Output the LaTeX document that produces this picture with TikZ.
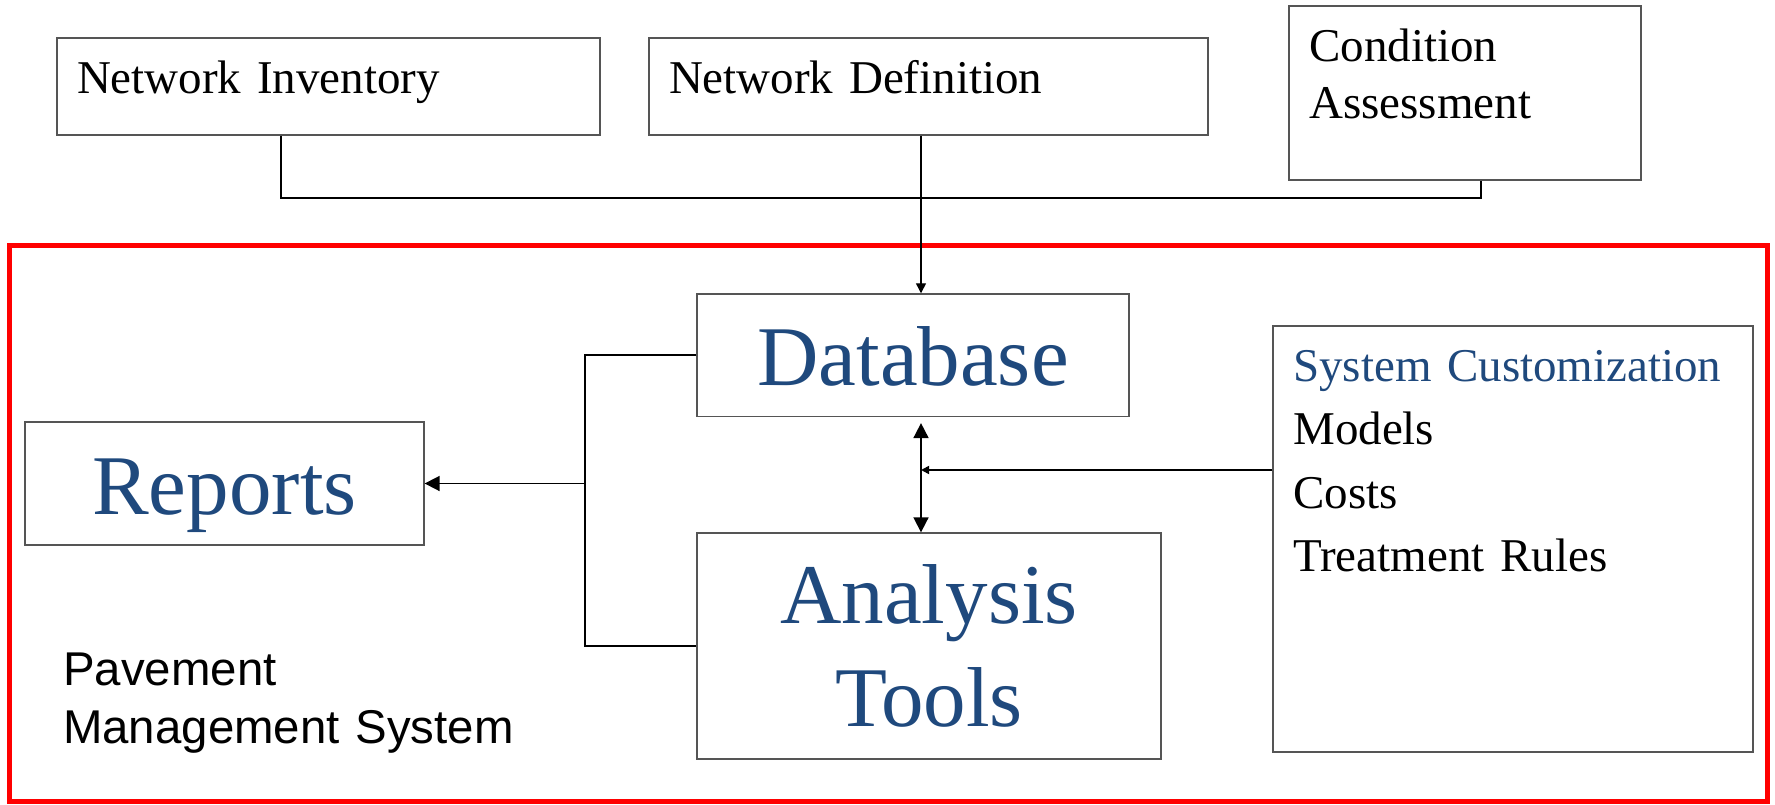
\documentclass[tikz,border=0pt]{standalone}
\usepackage{fontspec}
\setmainfont{Liberation Serif}
\setsansfont{Liberation Sans}
\usetikzlibrary{arrows.meta}
\definecolor{pmsblue}{RGB}{31,73,125}
\definecolor{boxline}{RGB}{85,85,85}

\begin{document}
\begin{tikzpicture}[x=1pt,y=1pt,line width=0.85pt,>={Triangle[width=7.5pt,length=7.5pt]},
  box/.style={draw=boxline,line width=0.65pt,inner sep=0pt},
  toplabel/.style={box,align=left,inner xsep=10pt,minimum height=48.5pt,
    text height=15.5pt,text depth=8pt,font=\fontsize{23.5}{28.5}\selectfont},
  bigbox/.style={box,font=\fontsize{42.5}{51.5}\selectfont,text=pmsblue},
  listtext/.style={inner sep=0pt,anchor=base west,align=left}]
\useasboundingbox (0,0) rectangle (887.5,402);

% frame round the management system
\draw[red,line width=2.5pt] (4.75,1.25) rectangle (883.5,279);

% data sources
\node[toplabel,text width=251.5pt] (inv) at (164.25,358.75) {Network Inventory};
\node[toplabel,text width=259.5pt] (def) at (464.25,358.75) {Network Definition};
\node[box,minimum width=176pt,minimum height=87pt] (cond) at (732.5,355.5) {};
\node[listtext,text width=160pt,font=\fontsize{23.5}{28.5}\selectfont] (condtxt)
  at ([shift={(10pt,-28pt)}]cond.north west) {Condition\\Assessment};

% inside the system
\node[bigbox,minimum width=216pt,minimum height=61.25pt,text height=30.6pt,text depth=0pt] (db) at (456.5,224.4) {Database};
\node[bigbox,minimum width=199.5pt,minimum height=61.5pt,text height=30.6pt,text depth=0pt] (rep) at (112.25,160.25) {Reports};
\node[bigbox,minimum width=232pt,minimum height=113pt,align=center] (tools) at (464.5,79) {Analysis\\Tools};
\node[box,minimum width=240pt,minimum height=213pt] (cust) at (756.5,132.5) {};
\node[listtext,text width=228pt,font=\fontsize{23.5}{31.7}\selectfont] (custtxt)
  at ([shift={(10pt,-28pt)}]cust.north west)
  {\textcolor{pmsblue}{System Customization}\\Models\\Costs\\Treatment Rules};
\node[listtext,text width=240pt,font=\sffamily\fontsize{23.7}{29.2}\selectfont] (pms)
  at (31.15,59.5) {Pavement\\Management System};

\coordinate (jl) at (140.5,303);
\coordinate (jr) at (740.5,303);
\coordinate (mid) at (460.5,303);
\coordinate (feed) at (460.5,167);
\coordinate (fork) at (292.5,160.25);

% connectors
\draw[line width=1pt] (inv.south -| jl) -- (jl) -- (jr) -- (cond.south -| jr);
\draw[line width=0.65pt,-{Triangle[width=5pt,length=5pt]}] (def.south -| mid) -- (db.north -| mid);
\draw[<->,shorten <=3pt] (db.south -| mid) -- (tools.north -| mid);
\draw[-{Triangle[width=4pt,length=4pt]}] (cust.west |- feed) -- (feed);
\draw (db.west) -- (db.west -| fork) -- (fork |- tools.west) -- (tools.west);
\draw[->] (fork) -- (rep.east);
\end{tikzpicture}
\end{document}
